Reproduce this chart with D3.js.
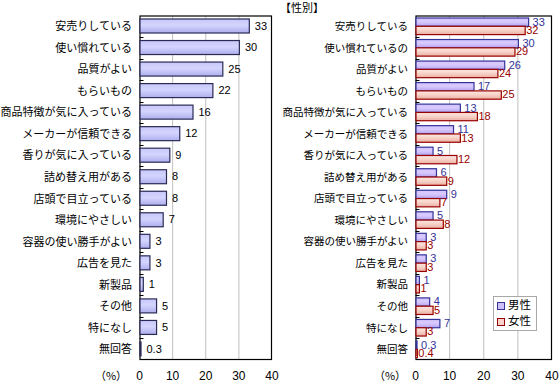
<!DOCTYPE html>
<html><head><meta charset="utf-8">
<script src="https://cdn.jsdelivr.net/npm/d3@7"></script>
<style>body{margin:0;background:#fff}svg{display:block}</style>
</head><body><svg id="c" width="559" height="390"></svg>
<script>
const categoriesLeft = ["安売りしている","使い慣れている","品質がよい","もらいもの","商品特徴が気に入っている","メーカーが信頼できる","香りが気に入っている","詰め替え用がある","店頭で目立っている","環境にやさしい","容器の使い勝手がよい","広告を見た","新製品","その他","特になし","無回答"];
const totalValues = [33,30,25,22,16,12,9,8,8,7,3,3,1,5,5,0.3];
const categoriesRight = ["安売りしている","使い慣れているの","品質がよい","もらいもの","商品特徴が気に入っている","メーカーが信頼できる","香りが気に入っている","詰め替え用がある","店頭で目立っている","環境にやさしい","容器の使い勝手がよい","広告を見た","新製品","その他","特になし","無回答"];
const maleValues = [33,30,26,17,13,11,5,6,9,5,3,3,1,4,7,0.3];
const femaleValues = [32,29,24,25,18,13,12,9,7,8,3,3,1,5,3,0.4];
const seriesNames = ["男性","女性"];
const xTicks = [0,10,20,30,40];
const rightTitle = "【性別】";
const unitLabel = "（%）";

const svg = d3.select("#c");
const defs = svg.append("defs");
function grad(id, c1, c2, c3){
  const g = defs.append("linearGradient").attr("id",id).attr("x1",0).attr("y1",0).attr("x2",0).attr("y2",1);
  g.append("stop").attr("offset","0%").attr("stop-color",c1);
  g.append("stop").attr("offset","45%").attr("stop-color",c2);
  g.append("stop").attr("offset","100%").attr("stop-color",c3);
}
grad("gTot","#c8c8fa","#d4d4ff","#aeaeec");
grad("gMale","#d4c4fc","#d8caff","#b4a2ee");
grad("gFem","#fce8e0","#f8d4ca","#eab0a2");

const jp = "'Noto Sans CJK JP', sans-serif";
const num = "'Liberation Sans', Arial, sans-serif";

function frame(x0,x1,y0,y1,cats,labelSize,labelX){
  const x = d3.scaleLinear().domain([0,40]).range([x0,x1]);
  const y = d3.scaleBand().domain(cats.map((d,i)=>i)).range([y0,y1]);
  const g = svg.append("g");
  // grid
  g.selectAll("line.grid").data(xTicks.filter(t=>t>0&&t<40)).join("line")
    .attr("x1",d=>x(d)).attr("x2",d=>x(d)).attr("y1",y0).attr("y2",y1)
    .attr("stroke","#c0c0c0").attr("stroke-width",1);
  // frame
  g.append("rect").attr("x",x0+0.5).attr("y",y0+0.5).attr("width",x1-x0-1).attr("height",y1-y0-1)
    .attr("fill","none").attr("stroke","#000").attr("stroke-width",1.2);
  // category boundary ticks
  g.selectAll("line.tk").data(cats.slice(1).map((d,i)=>i+1)).join("line")
    .attr("x1",x0).attr("x2",x0+4).attr("y1",d=>Math.round(y(d))+0.5).attr("y2",d=>Math.round(y(d))+0.5)
    .attr("stroke","#000");
  // category labels
  g.selectAll("text.cat").data(cats).join("text")
    .attr("x",labelX).attr("y",(d,i)=>y(i)+y.bandwidth()/2+1)
    .attr("text-anchor","end").attr("dominant-baseline","middle")
    .attr("font-family",jp).attr("font-size",labelSize).attr("fill","#000").text(d=>d);
  // x tick labels
  g.selectAll("text.xt").data(xTicks).join("text")
    .attr("x",d=>x(d)).attr("y",380).attr("text-anchor","middle")
    .attr("font-family",num).attr("font-size",12).attr("fill","#000").text(d=>d);
  return {x,y,g};
}

// Left chart
const L = frame(139.5,272,15.5,360,categoriesLeft,11,132);
L.g.selectAll("rect.bar").data(totalValues).join("rect")
  .attr("x",L.x(0)+0.5).attr("y",(d,i)=>L.y(i)+3.5)
  .attr("width",d=>Math.max(L.x(d)-L.x(0),1)).attr("height",14)
  .attr("fill","url(#gTot)").attr("stroke","#2a2a55").attr("stroke-width",1.2);
L.g.selectAll("text.val").data(totalValues).join("text")
  .attr("x",d=>L.x(d)+6).attr("y",(d,i)=>L.y(i)+L.y.bandwidth()/2+0.5)
  .attr("dominant-baseline","middle").attr("font-family",num).attr("font-size",11)
  .attr("fill","#000").text(d=>d);
L.g.append("text").attr("x",111).attr("y",380).attr("text-anchor","middle")
  .attr("font-family",jp).attr("font-size",11).text(unitLabel);

// Right chart
const R = frame(415.5,552,15.5,360,categoriesRight,10.5,408);
const bh = 8.3;
R.g.selectAll("rect.m").data(maleValues).join("rect")
  .attr("x",R.x(0)+0.5).attr("y",(d,i)=>R.y(i)+2.5)
  .attr("width",d=>Math.max(R.x(d)-R.x(0),0.8)).attr("height",bh)
  .attr("fill","url(#gMale)").attr("stroke","#333399").attr("stroke-width",1.2);
R.g.selectAll("rect.f").data(femaleValues).join("rect")
  .attr("x",R.x(0)+0.5).attr("y",(d,i)=>R.y(i)+2.5+bh)
  .attr("width",d=>Math.max(R.x(d)-R.x(0),0.8)).attr("height",bh)
  .attr("fill","url(#gFem)").attr("stroke","#990000").attr("stroke-width",1.2);
R.g.selectAll("text.mv").data(maleValues).join("text")
  .attr("x",d=>R.x(d)+4.5).attr("y",(d,i)=>R.y(i)+2.5+bh/2+0.5)
  .attr("dominant-baseline","middle").attr("font-family",num).attr("font-size",11)
  .attr("fill","#333399").text(d=>d);
R.g.selectAll("text.fv").data(femaleValues).join("text")
  .attr("x",d=>R.x(d)+1.5).attr("y",(d,i)=>R.y(i)+2.5+bh*1.5+0.5)
  .attr("dominant-baseline","middle").attr("font-family",num).attr("font-size",11)
  .attr("fill","#990000").text(d=>d);
R.g.append("text").attr("x",390).attr("y",380).attr("text-anchor","middle")
  .attr("font-family",jp).attr("font-size",11).text(unitLabel);
svg.append("text").attr("x",280).attr("y",12).attr("font-family",jp).attr("font-size",11).text(rightTitle);

// Legend
const lg = svg.append("g");
lg.append("rect").attr("x",493.5).attr("y",296.5).attr("width",43).attr("height",34)
  .attr("fill","#fff").attr("stroke","#a8a8a8");
const sw = [{f:"#cfc0fa",s:"#333399"},{f:"#f8d2c8",s:"#990000"}];
lg.selectAll("rect.sw").data(seriesNames).join("rect")
  .attr("x",497.5).attr("y",(d,i)=>302.5+i*16).attr("width",7).attr("height",7)
  .attr("fill",(d,i)=>sw[i].f).attr("stroke",(d,i)=>sw[i].s);
lg.selectAll("text.lt").data(seriesNames).join("text")
  .attr("x",508).attr("y",(d,i)=>306+i*16).attr("dominant-baseline","middle")
  .attr("font-family",jp).attr("font-size",11.5).text(d=>d);
</script></body></html>
